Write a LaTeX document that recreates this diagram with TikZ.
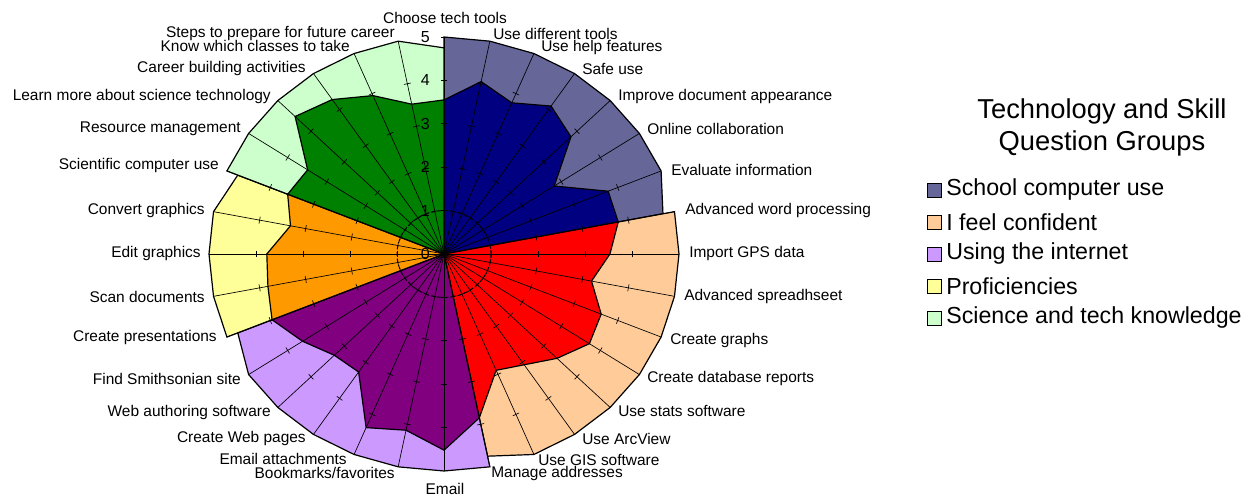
\documentclass[tikz,border=0pt]{standalone}
\usepackage{fontspec}
\setmainfont{Liberation Sans}
\usetikzlibrary{calc}
\definecolor{slateS}{HTML}{666699}
\definecolor{navyS}{HTML}{000080}
\definecolor{peachS}{HTML}{FFCC99}
\definecolor{redS}{HTML}{FF0000}
\definecolor{lavS}{HTML}{CC99FF}
\definecolor{purpS}{HTML}{800080}
\definecolor{yelS}{HTML}{FFFF99}
\definecolor{orS}{HTML}{FF9900}
\definecolor{lgS}{HTML}{CCFFCC}
\definecolor{grS}{HTML}{008000}
\begin{document}
\begin{tikzpicture}[x=0.75pt,y=-0.75pt,
  area/.style={draw=black,line width=0.9pt,line join=miter},
  spoke/.style={draw=black,line width=0.5pt},
  lab/.style={font=\fontsize{11.6}{13}\selectfont,inner sep=0pt},
  axlab/.style={font=\fontsize{12}{14}\selectfont,inner sep=0pt,anchor=east},
  legtxt/.style={font=\fontsize{17.4}{20}\selectfont,inner sep=0pt,anchor=west},
  legbox/.style={draw=black,line width=0.7pt,minimum size=10.5pt,inner sep=0pt}]
\useasboundingbox (0,0) rectangle (1251,498);
\begin{scope}[shift={(444,254)}]
\begin{scope}[x=35.25pt,y=32.55pt]
% background group areas
\filldraw[area,fill=slateS] (0,0) \foreach \i in {0,...,6}{ -- ({90-\i*11.25}:5)} -- ({90-7*11.25}:4.75) -- cycle;
\filldraw[area,fill=peachS] (0,0) \foreach \i in {7,...,14}{ -- ({90-\i*11.25}:5)} -- ({90-15*11.25}:4.75) -- cycle;
\filldraw[area,fill=lavS] (0,0) \foreach \i in {15,...,21}{ -- ({90-\i*11.25}:5)} -- ({90-22*11.25}:4.75) -- cycle;
\filldraw[area,fill=yelS] (0,0) \foreach \i in {22,...,25}{ -- ({90-\i*11.25}:5)} -- ({90-26*11.25}:4.75) -- cycle;
\filldraw[area,fill=lgS] (0,0) \foreach \i in {26,...,31}{ -- ({90-\i*11.25}:5)} -- ({90-32*11.25}:4.75) -- cycle;
% data areas
\filldraw[area,fill=navyS] (0,0) \foreach \v [count=\i from 0] in {3.55,4.05,3.77,4.1,3.82,2.82,3.78,3.78}{ -- ({90-\i*11.25}:\v)} -- cycle;
\filldraw[area,fill=redS] (0,0) \foreach \v [count=\i from 7] in {3.78,3.53,3.2,3.62,3.72,3.4,3.07,2.9,3.85}{ -- ({90-\i*11.25}:\v)} -- cycle;
\filldraw[area,fill=purpS] (0,0) \foreach \v [count=\i from 15] in {3.85,4.52,4.14,4.33,3.27,3.3,3.62,3.96}{ -- ({90-\i*11.25}:\v)} -- cycle;
\filldraw[area,fill=orS] (0,0) \foreach \v [count=\i from 22] in {3.96,3.82,3.77,3.33,3.6}{ -- ({90-\i*11.25}:\v)} -- cycle;
\filldraw[area,fill=grS] (0,0) \foreach \v [count=\i from 26] in {3.6,3.49,4.48,4.28,3.95,3.52,3.55}{ -- ({90-\i*11.25}:\v)} -- cycle;
% spokes and ticks
\foreach \i in {0,...,31}{
  \draw[spoke] (0,0) -- ({90-\i*11.25}:5);
  \foreach \v in {1,2,3,4}{
    \draw[spoke] ($({90-\i*11.25}:\v)!2.6pt!90:(0,0)$) -- ($({90-\i*11.25}:\v)!2.6pt!-90:(0,0)$);
  }
}
\draw[spoke] ($(90:5)!2.6pt!90:(0,0)$) -- ($(90:5)!2.6pt!-90:(0,0)$);
% dashed ring at 1
\draw[black,line width=0.7pt,dash pattern=on 3pt off 2pt] (0,0) ellipse [x radius=35.25pt,y radius=32.55pt];
\end{scope}
\end{scope}
% axis numbers
\foreach \k in {0,...,5}{
  \node[axlab] (ax\k) at (430,{254-43.4*\k}) {\k};
}
% category labels
\node[lab,anchor=center] (c0) at (445,18) {Choose tech tools};
\node[lab,anchor=west] (c1) at (493,34) {Use different tools};
\node[lab,anchor=west] (c2) at (541,48) {Use help features};
\node[lab,anchor=west] (c3) at (582,69) {Safe use};
\node[lab,anchor=west] (c4) at (618,97) {Improve document appearance};
\node[lab,anchor=west] (c5) at (647,129) {Online collaboration};
\node[lab,anchor=west] (c6) at (671,170) {Evaluate information};
\node[lab,anchor=west] (c7) at (685,211) {Advanced word processing};
\node[lab,anchor=west] (c8) at (689,254) {Import GPS data};
\node[lab,anchor=west] (c9) at (684,297) {Advanced spreadhseet};
\node[lab,anchor=west] (c10) at (670,341) {Create graphs};
\node[lab,anchor=west] (c11) at (647,379) {Create database reports};
\node[lab,anchor=west] (c12) at (618,411) {Use stats software};
\node[lab,anchor=west] (c13) at (582,439) {Use ArcView};
\node[lab,anchor=west] (c14) at (538,460) {Use GIS software};
\node[lab,anchor=west] (c15) at (491,473) {Manage addresses};
\node[lab,anchor=center] (c16) at (445,489) {Email};
\node[lab,anchor=east] (c17) at (395,473) {Bookmarks/favorites};
\node[lab,anchor=east] (c18) at (347,459) {Email attachments};
\node[lab,anchor=east] (c19) at (306,439) {Create Web pages};
\node[lab,anchor=east] (c20) at (271,412) {Web authoring software};
\node[lab,anchor=east] (c21) at (241,379) {Find Smithsonian site};
\node[lab,anchor=east] (c22) at (217,338) {Create presentations};
\node[lab,anchor=east] (c23) at (205,297) {Scan documents};
\node[lab,anchor=east] (c24) at (201,254) {Edit graphics};
\node[lab,anchor=east] (c25) at (205,211) {Convert graphics};
\node[lab,anchor=east] (c26) at (219,166) {Scientific computer use};
\node[lab,anchor=east] (c27) at (241,129) {Resource management};
\node[lab,anchor=east] (c28) at (271,97) {Learn more about science technology};
\node[lab,anchor=east] (c29) at (306,69) {Career building activities};
\node[lab,anchor=east] (c30) at (350,46) {Know which classes to take};
\node[lab,anchor=east] (c31) at (395,34) {Steps to prepare for future career};
% legend
\node[font=\fontsize{20.5}{24}\selectfont,align=center,inner sep=0pt] (title) at (1102,127) {Technology and Skill\\Question Groups};
\node[legbox,fill=slateS] (b1) at (934,190) {};
\node[legbox,fill=peachS] (b2) at (934,222) {};
\node[legbox,fill=lavS] (b3) at (934,254) {};
\node[legbox,fill=yelS] (b4) at (934,286) {};
\node[legbox,fill=lgS] (b5) at (934,318) {};
\node[legtxt] (t1) at (946,190) {School computer use};
\node[legtxt] (t2) at (946,222) {I feel confident};
\node[legtxt] (t3) at (946,254) {Using the internet};
\node[legtxt] (t4) at (946,286) {Proficiencies};
\node[legtxt] (t5) at (946,318) {Science and tech knowledge};
\end{tikzpicture}
\end{document}
